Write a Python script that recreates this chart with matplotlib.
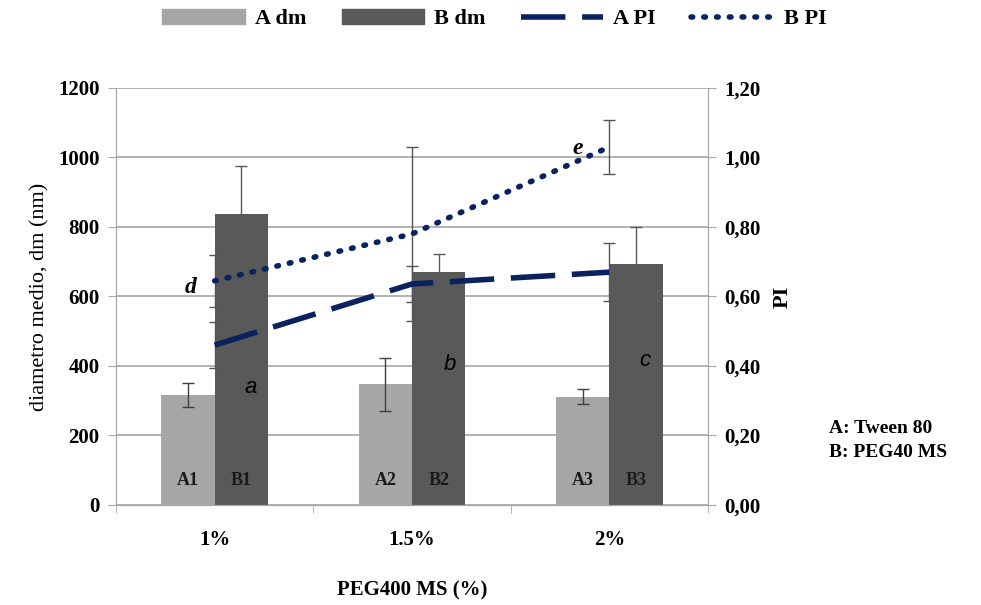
import numpy as np
import matplotlib.pyplot as plt
from matplotlib.patches import Patch
from matplotlib.lines import Line2D
from matplotlib.ticker import FuncFormatter

# data
categories = ['1%', '1.5%', '2%']
a_dm = [316, 347, 312]
a_dm_err = [35, 77, 22]
b_dm = [837, 670, 693]
b_dm_err = [139, 52, 108]
a_pi = [0.46, 0.636, 0.67]
a_pi_err = [0.066, 0.053, 0.083]
b_pi = [0.645, 0.78, 1.03]
b_pi_err = [0.075, 0.25, 0.079]
bar_labels_a = ['A1', 'A2', 'A3']
bar_labels_b = ['B1', 'B2', 'B3']
letters = ['a', 'b', 'c']
line_letters = ['d', 'e']

serif = 'Liberation Serif'
navy = '#0b2260'
col_a = '#a6a6a6'
col_b = '#595959'
grid_col = '#a6a6a6'

fig = plt.figure(figsize=(9.81, 6.05), dpi=100)
ax = fig.add_axes([0.1183, 0.1653, 0.6034, 0.6893])
ax2 = ax.twinx()

x = np.arange(len(categories))
w = 0.27

ax.bar(x - w / 2, a_dm, w, color=col_a, zorder=2,
       yerr=a_dm_err, error_kw=dict(ecolor='#404040', elinewidth=1, capsize=4, capthick=1))
ax.bar(x + w / 2, b_dm, w, color=col_b, zorder=2,
       yerr=b_dm_err, error_kw=dict(ecolor='#5a5a5a', elinewidth=1, capsize=4, capthick=1))

for i in range(len(categories)):
    ax.text(x[i] - w / 2, 70, bar_labels_a[i], ha='center', va='center',
            family=serif, fontweight='bold', fontsize=13, color='#1a1a1a', zorder=3)
    ax.text(x[i] + w / 2, 70, bar_labels_b[i], ha='center', va='center',
            family=serif, fontweight='bold', fontsize=13, color='#1a1a1a', zorder=3)

# letters next to the B bars
letter_pos = [(0.18, 337), (1.19, 403), (2.18, 417)]
for (lx, ly), t in zip(letter_pos, letters):
    ax.text(lx, ly, t, ha='center', va='center', family='Liberation Sans',
            style='italic', fontsize=16, color='black', zorder=3)

ax.set_xlim(-0.5, 2.5)
ax.set_ylim(0, 1200)
ax.set_yticks(np.arange(0, 1201, 200))
ax.yaxis.grid(True, color=grid_col, lw=1.2)
ax.set_axisbelow(True)

ax.set_xticks(x)
ax.set_xticklabels(categories)
ax.set_xticks([-0.5, 0.5, 1.5, 2.5], minor=True)
ax.tick_params(axis='x', which='major', length=0, pad=18)
ax.tick_params(axis='x', which='minor', length=6, color=grid_col, direction='out')
ax.tick_params(axis='y', length=6, color=grid_col, pad=6)

for lab in ax.get_xticklabels() + ax.get_yticklabels():
    lab.set_family(serif)
    lab.set_fontweight('bold')
    lab.set_fontsize(15)

ax.spines['top'].set_visible(False)
ax2.spines['top'].set_visible(False)
for s in ['left', 'bottom', 'right']:
    ax.spines[s].set_color(grid_col)
    ax2.spines[s].set_color(grid_col)

ax.set_ylabel('diametro medio, dm (nm)', family=serif, fontsize=16, labelpad=6)
ax.set_xlabel('PEG400 MS (%)', family=serif, fontweight='bold', fontsize=15, labelpad=22)

# PI on the secondary axis
ax2.errorbar(x, a_pi, yerr=a_pi_err, color=navy, lw=4, dashes=(8, 3),
             ecolor='#555555', elinewidth=1, capsize=4, capthick=1, zorder=4)
ax2.errorbar(x, b_pi, yerr=b_pi_err, color=navy, lw=4, dashes=(0.3, 2.0),
             dash_capstyle='round', ecolor='#555555', elinewidth=1, capsize=4,
             capthick=1, zorder=4)
ax2.set_ylim(0, 1.2)
ax2.set_yticks(np.arange(0, 1.21, 0.2))
ax2.yaxis.set_major_formatter(FuncFormatter(lambda v, p: f'{v:.2f}'.replace('.', ',')))
ax2.tick_params(axis='y', length=6, color=grid_col, pad=6)
for lab in ax2.get_yticklabels():
    lab.set_family(serif)
    lab.set_fontweight('bold')
    lab.set_fontsize(15)
ax2.set_ylabel('PI', family=serif, fontweight='bold', fontsize=16, labelpad=8)

ax2.text(-0.12, 0.627, line_letters[0], ha='center', va='center', family=serif,
         style='italic', fontweight='bold', fontsize=17)
ax2.text(1.84, 1.027, line_letters[1], ha='center', va='center', family=serif,
         style='italic', fontweight='bold', fontsize=17)

fig.text(0.845, 0.272, 'A: Tween 80\nB: PEG40 MS', family=serif, fontweight='bold',
         fontsize=14, ha='left', va='center', linespacing=1.5)

handles = [Patch(color=col_a), Patch(color=col_b),
           Line2D([], [], color=navy, lw=4, dashes=(8, 3)),
           Line2D([], [], color=navy, lw=4, dashes=(0.3, 2.0), dash_capstyle='round')]
fig.legend(handles, ['A dm', 'B dm', 'A PI', 'B PI'], loc='center',
           bbox_to_anchor=(0.504, 0.968), ncol=4, frameon=False, handlelength=3.7,
           handleheight=0.6, columnspacing=1.6, handletextpad=0.45,
           prop=dict(family=serif, weight='bold', size=16))

fig.savefig('out.png', dpi=100)
